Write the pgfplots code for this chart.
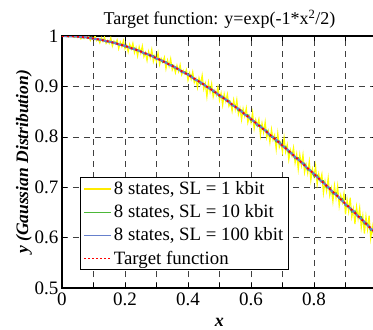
\documentclass[border=0pt]{standalone}
\usepackage{fontspec}
\setmainfont{Liberation Serif}
\usepackage{pgfplots}
\pgfplotsset{compat=1.18}
\definecolor{cyel}{rgb}{1,1,0}
\definecolor{cyelL}{rgb}{1,0.92,0}
\definecolor{cgrn}{rgb}{0.30,0.72,0.22}
\definecolor{cblu}{rgb}{0.40,0.50,0.80}
\definecolor{cred}{rgb}{1,0,0}
\begin{document}
\begin{tikzpicture}
\useasboundingbox (0,0) rectangle (373pt,330pt);
\clip (0,0) rectangle (373pt,330pt);
\begin{axis}[
  at={(62pt,42pt)}, anchor=south west,
  width=315pt, height=252pt, scale only axis,
  xmin=0, xmax=1, ymin=0.5, ymax=1,
  xtick={0,0.1,...,1.0},
  xticklabels={0,,0.2,,0.4,,0.6,,0.8,,},
  ytick={0.5,0.6,0.7,0.8,0.9,1},
  yticklabels={0.5,0.6,0.7,0.8,0.9,1},
  tick align=inside,
  major tick length=5pt,
  tick style={black, line width=0.6pt},
  axis line style={black, line width=1.2pt},
  grid=major,
  major grid style={black!75, line width=0.6pt, dash pattern=on 6pt off 5pt},
  /pgf/number format/assume math mode=true,
  tick label style={font=\fontsize{19}{22}\selectfont},
  xticklabel style={yshift=-1pt},
  title={Target function: y=exp(-1*x\textsuperscript{2}/2)},
  title style={font=\fontsize{18}{21}\selectfont, yshift=-2pt},
  xlabel={\textbf{\textit{x}}},
  ylabel={\textbf{\textit{y (Gaussian Distribution)}}},
  xlabel style={font=\fontsize{18}{21}\selectfont, yshift=-6pt},
  ylabel style={font=\fontsize{17.5}{21}\selectfont, yshift=-4pt},
  legend style={at={(rel axis cs:0.057,0.071)}, anchor=south west,
    draw=black, line width=0.8pt, fill=white,
    font=\fontsize{18.8}{21}\selectfont, inner xsep=3pt, inner ysep=2pt,
    row sep=4.5pt},
  legend cell align=left,
  legend image code/.code={\draw[#1] (0pt,0pt) -- (27pt,0pt);},
]
\addplot[cyel, line width=1.2pt, forget plot] coordinates {
(0.000,0.9995)(0.005,0.9998)(0.010,0.9989)(0.015,0.9999)(0.020,0.9983)(0.025,0.9999)(0.030,0.9988)(0.035,0.9999)(0.040,0.9972)(0.045,0.9996)
(0.050,0.9969)(0.055,1.0000)(0.060,0.9944)(0.065,0.9992)(0.070,0.9952)(0.075,1.0004)(0.080,0.9958)(0.085,0.9993)(0.090,0.9912)(0.095,0.9974)
(0.100,0.9934)(0.105,1.0001)(0.110,0.9908)(0.115,0.9942)(0.120,0.9864)(0.125,0.9962)(0.130,0.9892)(0.135,0.9973)(0.140,0.9855)(0.145,0.9912)
(0.150,0.9856)(0.155,0.9961)(0.160,0.9801)(0.165,0.9897)(0.170,0.9841)(0.175,0.9920)(0.180,0.9751)(0.185,0.9878)(0.190,0.9789)(0.195,0.9908)
(0.200,0.9746)(0.205,0.9816)(0.210,0.9686)(0.215,0.9835)(0.220,0.9745)(0.225,0.9854)(0.230,0.9667)(0.235,0.9768)(0.240,0.9604)(0.245,0.9784)
(0.250,0.9660)(0.255,0.9800)(0.260,0.9588)(0.265,0.9671)(0.270,0.9514)(0.275,0.9693)(0.280,0.9568)(0.285,0.9730)(0.290,0.9492)(0.295,0.9606)
(0.300,0.9496)(0.305,0.9663)(0.310,0.9433)(0.315,0.9555)(0.320,0.9481)(0.325,0.9576)(0.330,0.9353)(0.335,0.9519)(0.340,0.9399)(0.345,0.9546)
(0.350,0.9328)(0.355,0.9409)(0.360,0.9273)(0.365,0.9416)(0.370,0.9298)(0.375,0.9426)(0.380,0.9233)(0.385,0.9316)(0.390,0.9248)(0.395,0.9330)
(0.400,0.9121)(0.405,0.9263)(0.410,0.9144)(0.415,0.9285)(0.420,0.9076)(0.425,0.9156)(0.430,0.8977)(0.435,0.9167)(0.440,0.9047)(0.445,0.9217)
(0.450,0.8947)(0.455,0.9057)(0.460,0.8796)(0.465,0.9075)(0.470,0.8894)(0.475,0.9053)(0.480,0.8792)(0.485,0.8920)(0.490,0.8829)(0.495,0.8987)
(0.500,0.8725)(0.505,0.8863)(0.510,0.8631)(0.515,0.8848)(0.520,0.8705)(0.525,0.8843)(0.530,0.8610)(0.535,0.8687)(0.540,0.8513)(0.545,0.8730)
(0.550,0.8546)(0.555,0.8732)(0.560,0.8449)(0.565,0.8565)(0.570,0.8341)(0.575,0.8556)(0.580,0.8412)(0.585,0.8567)(0.590,0.8283)(0.595,0.8408)
(0.600,0.8283)(0.605,0.8478)(0.610,0.8162)(0.615,0.8337)(0.620,0.8221)(0.625,0.8346)(0.630,0.8030)(0.635,0.8264)(0.640,0.8088)(0.645,0.8292)
(0.650,0.7986)(0.655,0.8109)(0.660,0.7893)(0.665,0.8146)(0.670,0.7940)(0.675,0.8033)(0.680,0.7756)(0.685,0.8069)(0.690,0.7792)(0.695,0.7885)
(0.700,0.7697)(0.705,0.7980)(0.710,0.7702)(0.715,0.7844)(0.720,0.7547)(0.725,0.7739)(0.730,0.7621)(0.735,0.7783)(0.740,0.7485)(0.745,0.7657)
(0.750,0.7358)(0.755,0.7640)(0.760,0.7432)(0.765,0.7643)(0.770,0.7295)(0.775,0.7446)(0.780,0.7277)(0.785,0.7508)(0.790,0.7139)(0.795,0.7360)
(0.800,0.7212)(0.805,0.7422)(0.810,0.7053)(0.815,0.7264)(0.820,0.7115)(0.825,0.7256)(0.830,0.6886)(0.835,0.7117)(0.840,0.6927)(0.845,0.7178)
(0.850,0.6838)(0.855,0.6979)(0.860,0.6719)(0.865,0.7029)(0.870,0.6789)(0.875,0.7019)(0.880,0.6630)(0.885,0.6840)(0.890,0.6700)(0.895,0.6870)
(0.900,0.6460)(0.905,0.6750)(0.910,0.6520)(0.915,0.6790)(0.920,0.6410)(0.925,0.6569)(0.930,0.6269)(0.935,0.6609)(0.940,0.6379)(0.945,0.6589)
(0.950,0.6198)(0.955,0.6428)(0.960,0.6078)(0.965,0.6418)(0.970,0.6167)(0.975,0.6437)(0.980,0.5987)(0.985,0.6216)(0.990,0.5986)(0.995,0.6276)
(1.000,0.5965)
};
\addplot[cgrn, line width=1.2pt, forget plot] coordinates {
(0.00,0.9998)(0.01,0.9999)(0.02,0.9990)(0.03,0.9999)(0.04,0.9982)(0.05,0.9995)(0.06,0.9970)(0.07,0.9985)(0.08,0.9963)(0.09,0.9974)
(0.10,0.9935)(0.11,0.9948)(0.12,0.9918)(0.13,0.9932)(0.14,0.9885)(0.15,0.9894)(0.16,0.9859)(0.17,0.9875)(0.18,0.9831)(0.19,0.9836)
(0.20,0.9782)(0.21,0.9792)(0.22,0.9745)(0.23,0.9761)(0.24,0.9707)(0.25,0.9710)(0.26,0.9645)(0.27,0.9649)(0.28,0.9601)(0.29,0.9612)
(0.30,0.9540)(0.31,0.9543)(0.32,0.9475)(0.33,0.9489)(0.34,0.9430)(0.35,0.9431)(0.36,0.9351)(0.37,0.9348)(0.38,0.9275)(0.39,0.9288)
(0.40,0.9219)(0.41,0.9222)(0.42,0.9131)(0.43,0.9126)(0.44,0.9047)(0.45,0.9059)(0.46,0.8980)(0.47,0.8984)(0.48,0.8885)(0.49,0.8881)
(0.50,0.8793)(0.51,0.8806)(0.52,0.8725)(0.53,0.8723)(0.54,0.8614)(0.55,0.8611)(0.56,0.8515)(0.57,0.8529)(0.58,0.8440)(0.59,0.8438)
(0.60,0.8323)(0.61,0.8316)(0.62,0.8215)(0.63,0.8230)(0.64,0.8133)(0.65,0.8132)(0.66,0.8011)(0.67,0.8006)(0.68,0.7898)(0.69,0.7914)
(0.70,0.7813)(0.71,0.7810)(0.72,0.7682)(0.73,0.7679)(0.74,0.7565)(0.75,0.7582)(0.76,0.7476)(0.77,0.7475)(0.78,0.7341)(0.79,0.7337)
(0.80,0.7220)(0.81,0.7239)(0.82,0.7127)(0.83,0.7128)(0.84,0.6989)(0.85,0.6988)(0.86,0.6865)(0.87,0.6887)(0.88,0.6770)(0.89,0.6774)
(0.90,0.6630)(0.91,0.6630)(0.92,0.6505)(0.93,0.6529)(0.94,0.6407)(0.95,0.6414)(0.96,0.6268)(0.97,0.6269)(0.98,0.6141)(0.99,0.6166)
(1.00,0.6045)
};
\addplot[cblu, line width=2.2pt, forget plot] coordinates {
(0.00,0.9999)(0.02,0.9996)(0.04,0.9996)(0.06,0.9978)(0.08,0.9972)(0.10,0.9944)(0.12,0.9932)(0.14,0.9897)(0.16,0.9877)(0.18,0.9833)
(0.20,0.9806)(0.22,0.9755)(0.24,0.9720)(0.26,0.9662)(0.28,0.9620)(0.30,0.9553)(0.32,0.9505)(0.34,0.9432)(0.36,0.9377)(0.38,0.9297)
(0.40,0.9236)(0.42,0.9149)(0.44,0.9082)(0.46,0.8989)(0.48,0.8917)(0.50,0.8818)(0.52,0.8741)(0.54,0.8636)(0.56,0.8555)(0.58,0.8444)
(0.60,0.8358)(0.62,0.8244)(0.64,0.8154)(0.66,0.8035)(0.68,0.7942)(0.70,0.7819)(0.72,0.7722)(0.74,0.7597)(0.76,0.7497)(0.78,0.7370)
(0.80,0.7267)(0.82,0.7137)(0.84,0.7033)(0.86,0.6901)(0.88,0.6795)(0.90,0.6662)(0.92,0.6555)(0.94,0.6421)(0.96,0.6313)(0.98,0.6179)
(1.00,0.6070)
};
\addplot[cred, line width=1.8pt, dash pattern=on 2pt off 3pt, forget plot] coordinates {
(0.00,1.0000)(0.02,0.9998)(0.04,0.9992)(0.06,0.9982)(0.08,0.9968)(0.10,0.9950)(0.12,0.9928)(0.14,0.9903)(0.16,0.9873)(0.18,0.9839)
(0.20,0.9802)(0.22,0.9761)(0.24,0.9716)(0.26,0.9668)(0.28,0.9616)(0.30,0.9560)(0.32,0.9501)(0.34,0.9438)(0.36,0.9373)(0.38,0.9303)
(0.40,0.9231)(0.42,0.9156)(0.44,0.9077)(0.46,0.8996)(0.48,0.8912)(0.50,0.8825)(0.52,0.8735)(0.54,0.8643)(0.56,0.8549)(0.58,0.8452)
(0.60,0.8353)(0.62,0.8251)(0.64,0.8148)(0.66,0.8043)(0.68,0.7936)(0.70,0.7827)(0.72,0.7717)(0.74,0.7605)(0.76,0.7492)(0.78,0.7377)
(0.80,0.7262)(0.82,0.7145)(0.84,0.7027)(0.86,0.6909)(0.88,0.6790)(0.90,0.6670)(0.92,0.6550)(0.94,0.6429)(0.96,0.6308)(0.98,0.6187)
(1.00,0.6065)
};
\addlegendimage{draw=cyelL, line width=1.6pt}
\addlegendentry{8 states, SL = 1 kbit}
\addlegendimage{draw=cgrn, line width=1pt}
\addlegendentry{8 states, SL = 10 kbit}
\addlegendimage{draw=cblu, line width=1.2pt}
\addlegendentry{8 states, SL = 100 kbit}
\addlegendimage{draw=cred, line width=1.5pt, dash pattern=on 2pt off 2pt}
\addlegendentry{Target function}
\end{axis}
\end{tikzpicture}
\end{document}
